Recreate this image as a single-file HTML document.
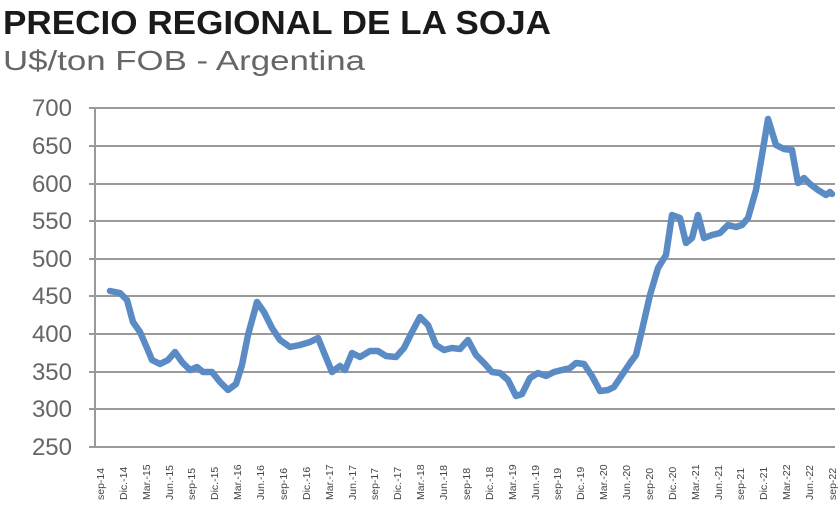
<!DOCTYPE html>
<html><head><meta charset="utf-8"><style>
body{margin:0;background:#fff;width:840px;height:502px;overflow:hidden;font-family:"Liberation Sans",sans-serif}
</style></head><body>
<svg width="840" height="502" xmlns="http://www.w3.org/2000/svg">
<text x="3" y="34" font-size="33" font-weight="bold" fill="#1a1a1a" font-family="Liberation Sans" textLength="548" lengthAdjust="spacingAndGlyphs">PRECIO REGIONAL DE LA SOJA</text>
<text x="3" y="70" font-size="28" fill="#666" font-family="Liberation Sans" textLength="362" lengthAdjust="spacingAndGlyphs">U$/ton FOB - Argentina</text>
<g stroke="#9a9a9a" stroke-width="2">
<line x1="89" y1="108" x2="835" y2="108"/><line x1="89" y1="146" x2="835" y2="146"/><line x1="89" y1="184" x2="835" y2="184"/><line x1="89" y1="221" x2="835" y2="221"/><line x1="89" y1="259" x2="835" y2="259"/><line x1="89" y1="296" x2="835" y2="296"/><line x1="89" y1="334" x2="835" y2="334"/><line x1="89" y1="372" x2="835" y2="372"/><line x1="89" y1="409" x2="835" y2="409"/><line x1="89" y1="447" x2="835" y2="447"/>
<line x1="95" y1="108" x2="95" y2="447"/>
</g>
<g font-size="24" fill="#666" text-anchor="end" font-family="Liberation Sans">
<text x="72" y="116">700</text><text x="72" y="154">650</text><text x="72" y="192">600</text><text x="72" y="229">550</text><text x="72" y="267">500</text><text x="72" y="304">450</text><text x="72" y="342">400</text><text x="72" y="380">350</text><text x="72" y="417">300</text><text x="72" y="455">250</text>
</g>
<polyline fill="none" stroke="#5b8bc4" stroke-width="6.5" stroke-linejoin="round" stroke-linecap="round" points="110,291 120,293 127,300 133,322 140,332 147,348 152,360 160,364 168,360 175,352 182,362 190,370 197,367 203,372 212,372 220,382 228,390 236,384 242,365 248,335 257,302 264,312 272,328 280,340 290,347 300,345 310,342 318,338 325,355 332,372 340,366 345,370 352,353 360,357 370,351 378,351 386,356 396,357 404,348 412,332 420,317 428,325 436,345 444,350 452,348 460,349 468,340 476,355 484,363 492,372 500,373 508,380 516,396 522,394 530,378 538,373 546,376 554,372 562,370 570,368 576,363 584,364 592,376 600,391 608,390 614,387 622,375 630,363 636,355 642,330 650,295 658,268 666,255 672,215 680,218 686,243 692,238 698,215 704,238 712,235 720,233 728,225 736,227 742,225 748,218 756,190 762,155 768,119 776,145 784,149 792,150 798,183 804,178 810,184 818,190 826,195 830,192 832,194"/>
<g font-size="10.5" fill="#444" font-family="Liberation Sans">
<text transform="translate(104,500) rotate(-90)">sep-14</text><text transform="translate(127,500) rotate(-90)">Dic.-14</text><text transform="translate(150,500) rotate(-90)">Mar.-15</text><text transform="translate(173,500) rotate(-90)">Jun.-15</text><text transform="translate(195,500) rotate(-90)">sep-15</text><text transform="translate(218,500) rotate(-90)">Dic.-15</text><text transform="translate(241,500) rotate(-90)">Mar.-16</text><text transform="translate(264,500) rotate(-90)">Jun.-16</text><text transform="translate(287,500) rotate(-90)">sep-16</text><text transform="translate(310,500) rotate(-90)">Dic.-16</text><text transform="translate(333,500) rotate(-90)">Mar.-17</text><text transform="translate(356,500) rotate(-90)">Jun.-17</text><text transform="translate(378,500) rotate(-90)">sep-17</text><text transform="translate(401,500) rotate(-90)">Dic.-17</text><text transform="translate(424,500) rotate(-90)">Mar.-18</text><text transform="translate(447,500) rotate(-90)">Jun.-18</text><text transform="translate(470,500) rotate(-90)">sep-18</text><text transform="translate(493,500) rotate(-90)">Dic.-18</text><text transform="translate(516,500) rotate(-90)">Mar.-19</text><text transform="translate(539,500) rotate(-90)">Jun.-19</text><text transform="translate(561,500) rotate(-90)">sep-19</text><text transform="translate(584,500) rotate(-90)">Dic.-19</text><text transform="translate(607,500) rotate(-90)">Mar.-20</text><text transform="translate(630,500) rotate(-90)">Jun.-20</text><text transform="translate(653,500) rotate(-90)">sep-20</text><text transform="translate(676,500) rotate(-90)">Dic.-20</text><text transform="translate(699,500) rotate(-90)">Mar.-21</text><text transform="translate(722,500) rotate(-90)">Jun.-21</text><text transform="translate(744,500) rotate(-90)">sep-21</text><text transform="translate(767,500) rotate(-90)">Dic.-21</text><text transform="translate(790,500) rotate(-90)">Mar.-22</text><text transform="translate(813,500) rotate(-90)">Jun.-22</text><text transform="translate(836,500) rotate(-90)">sep-22</text>
</g>
</svg>
</body></html>
